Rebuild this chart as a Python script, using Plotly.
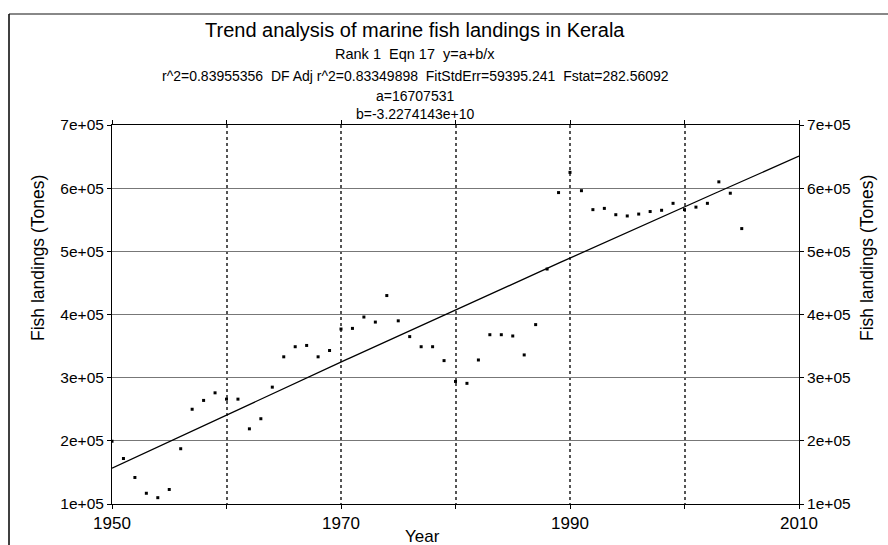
import numpy as np
import plotly.graph_objects as go

years = list(range(1950, 2006))
landings = [
    199500, 172000, 142000, 117000, 110000, 123000, 187500, 250000, 264000, 276000,
    266000, 266000, 219000, 235000, 285000, 333000, 349000, 351000, 333000, 343000,
    377000, 378000, 396000, 388000, 430000, 390000, 365000, 349000, 349000, 327000,
    294000, 291000, 328000, 368000, 368000, 366000, 336000, 384000, 472000, 593000,
    625000, 596000, 566000, 568000, 558000, 556000, 559000, 563000, 565000, 576000,
    566000, 570000, 576000, 610000, 592000, 536000,
]

a_param = 16707531
b_param = -3.2274143e10

x_ticks = [1950, 1960, 1970, 1980, 1990, 2000, 2010]
x_ticktext = ["1950", "", "1970", "", "1990", "", "2010"]
y_ticks = [100000, 200000, 300000, 400000, 500000, 600000, 700000]
y_ticktext = ["1e+05", "2e+05", "3e+05", "4e+05", "5e+05", "6e+05", "7e+05"]

title_lines = [
    "Trend analysis of marine fish landings in Kerala",
    "Rank 1  Eqn 17  y=a+b/x",
    "r^2=0.83955356  DF Adj r^2=0.83349898  FitStdErr=59395.241  Fstat=282.56092",
    "a=16707531",
    "b=-3.2274143e+10",
]
x_title = "Year"
y_title = "Fish landings (Tones)"

xfit = np.linspace(1950, 2010, 200)
yfit = a_param + b_param / xfit

FONT = "Liberation Sans, Arial, sans-serif"

# pixel -> paper helpers (plot area: x 112..799, y 125..504)
def px(x):
    return (x - 112) / 687

def py(y):
    return (504 - y) / 379

fig = go.Figure()
fig.add_trace(go.Scatter(x=xfit, y=yfit, mode="lines",
                         line=dict(color="black", width=1.3), showlegend=False,
                         hoverinfo="skip"))
fig.add_trace(go.Scatter(x=years, y=landings, mode="markers",
                         marker=dict(symbol="square", size=3, color="black"),
                         showlegend=False))
fig.add_trace(go.Scatter(x=[1950], y=[100000], yaxis="y2", mode="markers",
                         marker=dict(opacity=0), showlegend=False, hoverinfo="skip"))

axis_common = dict(showline=True, linecolor="black", linewidth=1,
                   ticks="outside", ticklen=4, tickcolor="black",
                   zeroline=False)

fig.update_layout(
    width=888, height=545,
    margin=dict(l=112, r=89, t=125, b=41),
    paper_bgcolor="white", plot_bgcolor="white",
    font=dict(family=FONT, color="black"),
    xaxis=dict(range=[1950, 2010], tickvals=x_ticks, ticktext=x_ticktext,
               mirror="ticks", showgrid=True, gridcolor="#555555", gridwidth=1.5,
               griddash="dot", ticklabelstandoff=0,
               tickfont=dict(family=FONT, size=17, color="black"),
               **axis_common),
    yaxis=dict(range=[100000, 700000], tickvals=y_ticks, ticktext=y_ticktext,
               mirror=True, showgrid=True, gridcolor="#777777", gridwidth=1,
               tickfont=dict(family=FONT, size=15.5, color="black"),
               **axis_common),
    yaxis2=dict(range=[100000, 700000], tickvals=y_ticks, ticktext=y_ticktext,
                overlaying="y", side="right", showgrid=False,
                tickfont=dict(family=FONT, size=15.5, color="black"),
                **axis_common),
)

sizes = [20, 14.5, 14, 14, 14]
ys = [30, 54, 76, 96, 114]
for txt, sz, yp in zip(title_lines, sizes, ys):
    fig.add_annotation(text=txt, xref="paper", yref="paper",
                       x=px(415), y=py(yp),
                       showarrow=False, xanchor="center", yanchor="middle",
                       font=dict(family=FONT, size=sz, color="black"))

fig.add_annotation(text=x_title, xref="paper", yref="paper", x=px(422), y=py(536),
                   showarrow=False, xanchor="center", yanchor="middle",
                   font=dict(family=FONT, size=17, color="black"))
for xp in (38, 867):
    fig.add_annotation(text=y_title, xref="paper", yref="paper", x=px(xp), y=py(258),
                       textangle=-90, showarrow=False, xanchor="center", yanchor="middle",
                       font=dict(family=FONT, size=17.5, color="black"))

# outer frame
fig.add_shape(type="line", xref="paper", yref="paper",
              x0=px(9), x1=px(888), y0=py(14), y1=py(14),
              line=dict(color="#888888", width=2))
fig.add_shape(type="line", xref="paper", yref="paper",
              x0=px(9), x1=px(9), y0=py(14), y1=py(546),
              line=dict(color="black", width=1.5))

fig.write_html("out.html")
